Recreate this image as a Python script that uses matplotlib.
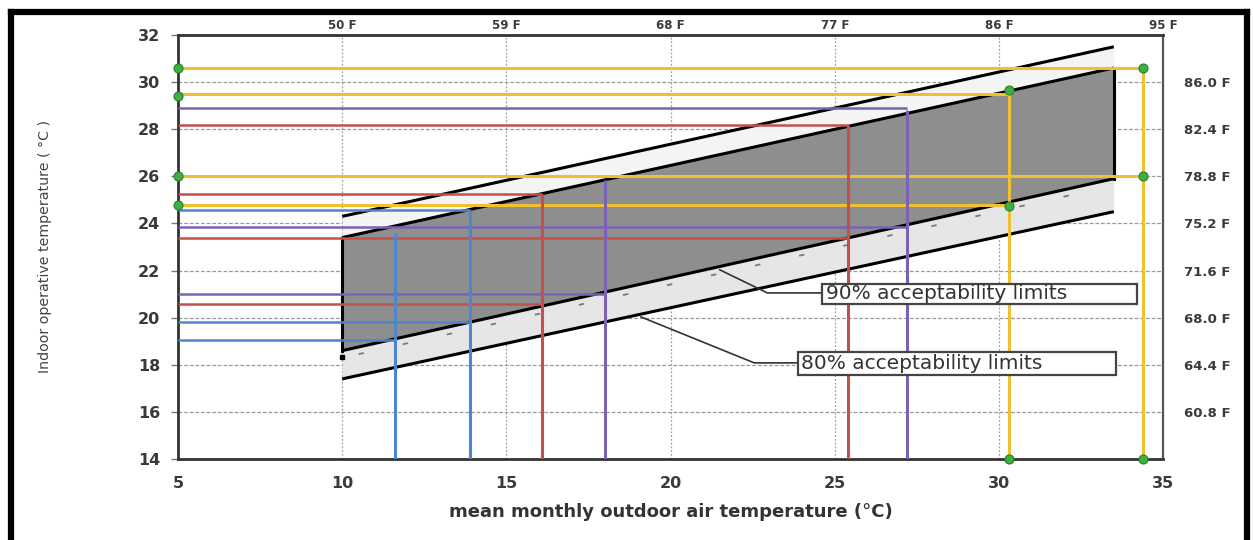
import matplotlib.pyplot as plt
from matplotlib.patches import Rectangle
from matplotlib.lines import Line2D

# acceptability limit lines (end points)
limit_x = [10, 33.5]
upper80 = [24.3, 31.5]
upper90 = [23.4, 30.6]
lower90 = [18.6, 25.9]
lower80 = [17.4, 24.5]
tick_x = [10.5, 33.3]
tick_y = [18.45, 25.55]

# coloured guide lines: (y, x where it stops, colour)
h_y = [30.6, 29.5, 26.0, 24.8, 28.2, 25.25, 23.4, 20.6, 28.9, 23.85, 21.0, 24.55, 19.8, 19.05]
h_xend = [34.4, 30.3, 34.4, 30.3, 25.4, 16.1, 25.4, 16.1, 27.2, 27.2, 18.0, 13.9, 13.9, 11.6]
h_col = ['y', 'y', 'y', 'y', 'r', 'r', 'r', 'r', 'p', 'p', 'p', 'b', 'b', 'b']

v_x = [11.6, 13.9, 16.1, 25.4, 18.0, 27.2, 30.3, 34.4]
v_ytop = [23.6, 24.55, 25.25, 28.2, 25.85, 28.8, 29.6, 30.6]
v_col = ['b', 'b', 'r', 'r', 'p', 'p', 'y', 'y']

green_x = [5, 5, 5, 5, 34.4, 30.3, 34.4, 30.3, 30.3, 34.4]
green_y = [30.6, 29.4, 26.0, 24.8, 30.6, 29.65, 26.0, 24.75, 14, 14]

celsius_x = [5, 10, 15, 20, 25, 30, 35]
celsius_y = [14, 16, 18, 20, 22, 24, 26, 28, 30, 32]
fahr_top_pos = [10, 15, 20, 25, 30, 35]
fahr_top = ['50 F', '59 F', '68 F', '77 F', '86 F', '95 F']
fahr_right_pos = [30, 28, 26, 24, 22, 20, 18, 16]
fahr_right = ['86.0 F', '82.4 F', '78.8 F', '75.2 F', '71.6 F', '68.0 F', '64.4 F', '60.8 F']

colors = {'y': '#f0c030', 'r': '#c4504e', 'p': '#7a62b5', 'b': '#4d86cc'}
tick_col = '#3a3a3a'

fig = plt.figure(figsize=(12.53, 5.40), dpi=100)
ax = fig.add_axes([0.1421, 0.15, 0.7861, 0.7852])
ax.set_xlim(5, 35)
ax.set_ylim(14, 32)

# grid
for x in [10, 15, 20, 25, 30]:
    ax.axvline(x, color='#a0a0a0', lw=0.9, ls=(0, (1.5, 1.5)), zorder=1)
for y in [16, 18, 20, 22, 24, 26, 28, 30]:
    ax.axhline(y, color='#9a9a9a', lw=0.9, ls=(0, (3, 1.5)), zorder=1)

# bands
ax.fill_between(limit_x, upper90, upper80, color='#f4f4f4', lw=0, zorder=2)
ax.fill_between(limit_x, lower80, lower90, color='#e6e6e6', lw=0, zorder=2)
ax.fill_between(limit_x, lower90, upper90, color='#8e8e8e', lw=0, zorder=2)
ax.plot(tick_x, tick_y, color='#7a7a7a', lw=1.3, ls=(0, (3, 22)), zorder=2.5)

for ys in [upper80, upper90, lower90, lower80]:
    ax.plot(limit_x, ys, color='black', lw=2.2, zorder=3, solid_capstyle='butt')
ax.plot([limit_x[0]] * 2, [lower90[0], upper90[0]], color='black', lw=2.2, zorder=3)
ax.plot([limit_x[1]] * 2, [lower90[1], upper90[1]], color='black', lw=2.2, zorder=3)
ax.plot([limit_x[0]], [lower90[0] - 0.25], 's', color='black', ms=3, zorder=3)

# coloured guides
for y, xe, c in zip(h_y, h_xend, h_col):
    ax.plot([5, xe], [y, y], color=colors[c], lw=2.2 if c == 'y' else 1.8, zorder=4,
            solid_capstyle='butt')
for x, yt, c in zip(v_x, v_ytop, v_col):
    ax.plot([x, x], [14, yt], color=colors[c], lw=2.2, zorder=4, solid_capstyle='butt')
ax.plot(green_x, green_y, 'o', color='#3cb043', mec='#2b7f2b', ms=6.5, mew=0.8,
        zorder=6, clip_on=False, ls='none')

# acceptability labels
ax.plot([24.6, 22.95, 21.5], [21.05, 21.05, 22.03], color='#333333', lw=1.2, zorder=5)
ax.plot([23.87, 22.55, 19.1], [18.08, 18.08, 20.03], color='#333333', lw=1.2, zorder=5)
ax.add_patch(Rectangle((24.6, 20.6), 9.6, 0.85, fc='white', ec='#444444', lw=1.6, zorder=5))
ax.add_patch(Rectangle((23.87, 17.58), 9.7, 0.98, fc='white', ec='#444444', lw=1.6, zorder=5))
ax.text(24.72, 21.03, '90% acceptability limits', fontsize=14.5, color='#333333',
        va='center', ha='left', zorder=6)
ax.text(23.98, 18.07, '80% acceptability limits', fontsize=14.5, color='#333333',
        va='center', ha='left', zorder=6)

# axes styling
ax.set_xticks(celsius_x)
ax.set_yticks(celsius_y)
ax.tick_params(axis='y', length=5, width=1, color='#777777', pad=8,
               labelsize=11.5, labelcolor=tick_col)
ax.tick_params(axis='x', length=0, pad=12, labelsize=11.5, labelcolor=tick_col)
for lab in ax.get_xticklabels() + ax.get_yticklabels():
    lab.set_fontweight('bold')
for s in ['left', 'bottom', 'top']:
    ax.spines[s].set_color('#333333')
    ax.spines[s].set_linewidth(2)
ax.spines['right'].set_color('#555555')
ax.spines['right'].set_linewidth(1.6)

ax.set_xlabel('mean monthly outdoor air temperature (°C)', fontsize=13,
              fontweight='bold', color='#333333', labelpad=9)
ax.set_ylabel('Indoor operative temperature ( °C )', fontsize=10.2,
              color='#444444', labelpad=62)

top = ax.twiny()
top.set_xlim(ax.get_xlim())
top.set_xticks(fahr_top_pos)
top.set_xticklabels(fahr_top, fontsize=8.5, fontweight='bold', color=tick_col)
top.tick_params(length=0, pad=2)

right = ax.twinx()
right.set_ylim(ax.get_ylim())
right.set_yticks(fahr_right_pos)
right.set_yticklabels(fahr_right, fontsize=9.5, fontweight='bold', color=tick_col)
right.tick_params(length=0, pad=15)
for a in [top, right]:
    for s in a.spines.values():
        s.set_visible(False)

# outer frame of the scanned figure
for xs, ys in [([0.009, 0.009], [-0.05, 0.977]), ([0.009, 0.995], [0.977, 0.977]),
               ([0.995, 0.995], [0.977, -0.05])]:
    fig.add_artist(Line2D(xs, ys, color='black', lw=4.5, transform=fig.transFigure))

fig.savefig('out.png', dpi=100, facecolor='white')
